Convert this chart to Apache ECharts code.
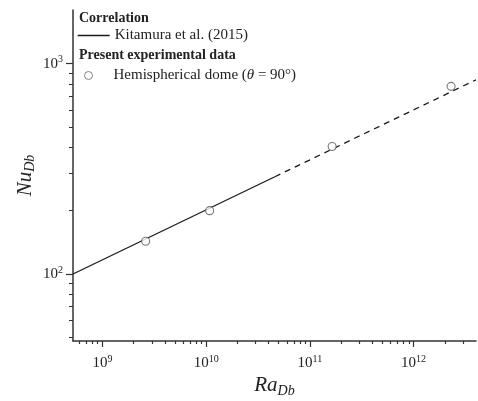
<!DOCTYPE html>
<html>
<head>
<meta charset="utf-8">
<script src="https://cdn.jsdelivr.net/npm/echarts@6/dist/echarts.min.js"></script>
<style>
  html, body { margin: 0; padding: 0; background: #fff; }
  #chart { width: 478px; height: 401px; }
</style>
</head>
<body>
<div id="chart"></div>
<script>
// Kitamura et al. (2015) correlation
var corrSolid = [[5.2e8, 100], [4.6e10, 290]];
var corrDashed = [[4.6e10, 290], [4.0e12, 838]];
// present experimental data, hemispherical dome
var expData = [[2.61e9, 143], [1.08e10, 200], [1.64e11, 404], [2.3e12, 780]];

var xMajor = [1e9, 1e10, 1e11, 1e12];
var yMajor = [1e2, 1e3];

var serif = 'Liberation Serif';
var ink = '#222';

// minor ticks at 2..9 x 10^n inside the axis range
function minorTicks(lo, hi) {
  var out = [];
  for (var e = Math.floor(Math.log10(lo)); e <= Math.ceil(Math.log10(hi)); e++) {
    for (var m = 2; m <= 9; m++) {
      var v = m * Math.pow(10, e);
      if (v > lo && v < hi) out.push(v);
    }
  }
  return out;
}

var xMin = 5.2e8, xMax = 4e12, yMin = 48, yMax = 1800;

function powLabel(v) {
  return '10{e|' + Math.round(Math.log10(v)) + '}';
}
var labelStyle = {
  fontFamily: serif, fontSize: 15, color: ink,
  rich: { e: { fontFamily: serif, fontSize: 10, color: ink, verticalAlign: 'top', padding: [0, 0, 8, 0] } }
};
var nameStyle = {
  fontFamily: serif, fontSize: 21, fontStyle: 'italic', color: ink,
  rich: { s: { fontFamily: serif, fontSize: 14, fontStyle: 'italic', color: ink, padding: [10, 0, 0, 0] } }
};

var chart = echarts.init(document.getElementById('chart'));
chart.setOption({
  animation: false,
  backgroundColor: '#fff',
  grid: { left: 73, right: 2, top: 10, bottom: 60, outerBoundsMode: 'none', containLabel: false },
  title: [
    { text: 'Correlation', left: 79, top: 11, padding: 0,
      textStyle: { fontFamily: serif, fontSize: 14, fontWeight: 'bold', color: ink } },
    { text: 'Present experimental data', left: 79, top: 48, padding: 0,
      textStyle: { fontFamily: serif, fontSize: 14, fontWeight: 'bold', color: ink } }
  ],
  legend: [
    { data: ['Kitamura et al. (2015)'], left: 77, top: 28, padding: 0,
      itemWidth: 32, itemHeight: 14, itemStyle: { opacity: 0 },
      lineStyle: { color: '#1a1a1a', width: 1.3 },
      textStyle: { fontFamily: serif, fontSize: 15, color: ink } },
    { data: [{ name: 'Hemispherical dome', icon: 'circle' }], left: 84, top: 68, padding: 0,
      itemWidth: 8, itemHeight: 8, itemStyle: { borderWidth: 1, borderColor: '#666' },
      formatter: function () { return 'Hemispherical dome ({i|θ} = 90°)'; },
      textStyle: { fontFamily: serif, fontSize: 15, color: ink, padding: [0, 0, 0, 16],
        rich: { i: { fontFamily: serif, fontSize: 15, fontStyle: 'italic', color: ink } } } }
  ],
  xAxis: [
    { type: 'log', min: xMin, max: xMax, position: 'bottom',
      name: 'Ra{s|Db}', nameLocation: 'middle', nameGap: 32, nameTextStyle: nameStyle,
      axisLine: { lineStyle: { color: '#333', width: 1.5 } },
      axisTick: { customValues: xMajor, length: 6, lineStyle: { color: '#333', width: 1.2 } },
      axisLabel: { customValues: xMajor, formatter: powLabel, margin: 13, textStyle: labelStyle },
      splitLine: { show: false } },
    { type: 'log', min: xMin, max: xMax, position: 'bottom',
      axisLine: { show: false },
      axisTick: { customValues: minorTicks(xMin, xMax), length: 3, lineStyle: { color: '#333', width: 1.2 } },
      axisLabel: { show: false },
      splitLine: { show: false } }
  ],
  yAxis: [
    { type: 'log', min: yMin, max: yMax, position: 'left',
      name: 'Nu{s|Db}', nameLocation: 'middle', nameGap: 36, nameMoveOverlap: false,
      nameTextStyle: nameStyle,
      axisLine: { lineStyle: { color: '#333', width: 1.5 } },
      axisTick: { customValues: yMajor, length: 7, lineStyle: { color: '#333', width: 1.2 } },
      axisLabel: { customValues: yMajor, formatter: powLabel, margin: 10, textStyle: labelStyle },
      splitLine: { show: false } },
    { type: 'log', min: yMin, max: yMax, position: 'left',
      axisLine: { show: false },
      axisTick: { customValues: minorTicks(yMin, yMax), length: 4, lineStyle: { color: '#333', width: 1 } },
      axisLabel: { show: false },
      splitLine: { show: false } }
  ],
  series: [
    { name: 'Kitamura et al. (2015)', type: 'line', data: corrSolid, symbol: 'none',
      xAxisIndex: 0, yAxisIndex: 0,
      lineStyle: { color: '#1a1a1a', width: 1.3 } },
    { name: 'Kitamura extrapolated', type: 'line', data: corrDashed, symbol: 'none',
      xAxisIndex: 0, yAxisIndex: 0,
      lineStyle: { color: '#1a1a1a', width: 1.3, type: [6, 5] } },
    { name: 'Hemispherical dome', type: 'scatter', data: expData, symbol: 'circle', symbolSize: 8,
      xAxisIndex: 0, yAxisIndex: 0, z: 5,
      itemStyle: { color: '#fff', borderColor: '#555', borderWidth: 1.1 } }
  ]
});
</script>
</body>
</html>
